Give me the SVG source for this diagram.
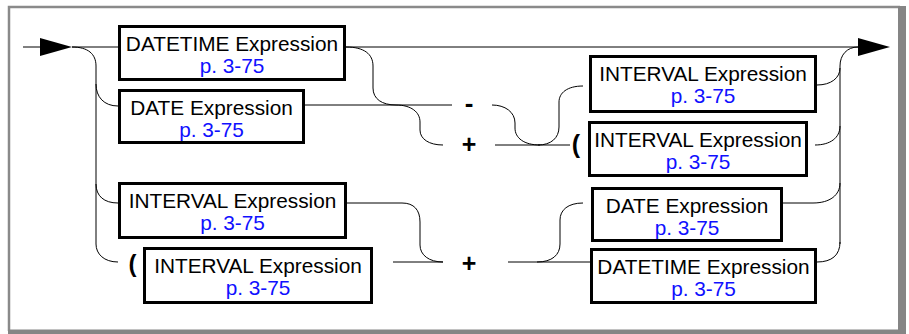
<svg xmlns="http://www.w3.org/2000/svg" width="909" height="334" viewBox="0 0 909 334">
<defs>
<style>
.box{fill:#fff;stroke:#000;stroke-width:3}
.t{font-family:"Liberation Sans",Arial,sans-serif;font-size:20.8px;fill:#000;text-anchor:middle}
.r{font-family:"Liberation Sans",Arial,sans-serif;font-size:20.8px;fill:#1010ff;text-anchor:middle}
.op{font-family:"Liberation Sans",Arial,sans-serif;font-weight:bold;fill:#000;text-anchor:middle}
.ln{fill:none;stroke:#000;stroke-width:1}
.fr{fill:none;stroke:#8a8a8a}
</style>
</defs>
<rect x="0" y="0" width="909" height="334" fill="#fff"/>
<g id="frame">
<path class="fr" d="M9,331 V7 H900" stroke-width="2.5"/>
<rect x="898" y="6" width="8" height="328" fill="#858585"/>
<rect x="8" y="329.5" width="898" height="4.5" fill="#858585"/>
</g>
<g id="connectors">
<path class="ln" d="M23,47 H40"/>
<polygon points="40,38 72,47 40,56" fill="#000"/>
<path class="ln" d="M72,47 H118"/>
<path class="ln" d="M346,47 H858"/>
<polygon points="858,38 890,47 858,56" fill="#000"/>
<path class="ln" d="M72,47 C88,47 96,54 96,66 V244 C96,254 104,262 118,262"/>
<path class="ln" d="M96,84 C96,97 104,106 118,106"/>
<path class="ln" d="M96,184 C96,196 104,203 118,203"/>
<path class="ln" d="M346,47 C364,47 373,54 373,66 V88 C373,99 382,105 396,105"/>
<path class="ln" d="M305,105 H452"/>
<path class="ln" d="M396,105 C411,105 420,112 420,122 V130 C420,139 429,145 443,145"/>
<path class="ln" d="M492,105 C505,105 515,112 515,123 V128 C515,138 524,145 540,145"/>
<path class="ln" d="M495,145 H570"/>
<path class="ln" d="M538,145 C551,145 559,138 559,127 V102 C559,93 567,86 583,86"/>
<path class="ln" d="M817,85 C831,85 840,78 840,68"/>
<path class="ln" d="M840,244 V66 C840,55 847,47 858,47"/>
<path class="ln" d="M815,145 C830,145 840,138 840,126"/>
<path class="ln" d="M783,203 H813 C830,203 840,195 840,183"/>
<path class="ln" d="M817,262 C832,262 840,255 840,242"/>
<path class="ln" d="M347,203 H402 C414,203 420,210 420,222 V245 C420,255 429,262 443,262"/>
<path class="ln" d="M393,262 H443"/>
<path class="ln" d="M508,262 H590"/>
<path class="ln" d="M537,262 C552,262 560,255 560,244 V220 C560,210 568,203 583,203"/>
</g>
<g id="ops">
<text class="op" x="469" y="112" font-size="26">-</text>
<text class="op" x="469" y="153" font-size="25">+</text>
<text class="op" x="469" y="272" font-size="25">+</text>
<text class="op" x="132.5" y="272" font-size="24">(</text>
<text class="op" x="576" y="153" font-size="25">(</text>
</g>
<g id="n1">
<rect class="box" x="119.5" y="26.5" width="225" height="53"/>
<text class="t" x="232" y="51">DATETIME Expression</text>
<text class="r" x="232" y="73">p. 3-75</text>
</g>
<g id="n2">
<rect class="box" x="119.5" y="90.5" width="184" height="52"/>
<text class="t" x="211.5" y="115">DATE Expression</text>
<text class="r" x="211.5" y="137">p. 3-75</text>
</g>
<g id="n3">
<rect class="box" x="119.5" y="183.5" width="226" height="54"/>
<text class="t" x="232.5" y="208">INTERVAL Expression</text>
<text class="r" x="232.5" y="230">p. 3-75</text>
</g>
<g id="n4">
<rect class="box" x="144.5" y="248.5" width="227" height="54"/>
<text class="t" x="258" y="273">INTERVAL Expression</text>
<text class="r" x="258" y="295">p. 3-75</text>
</g>
<g id="n5">
<rect class="box" x="590.5" y="56.5" width="225" height="55"/>
<text class="t" x="703" y="81">INTERVAL Expression</text>
<text class="r" x="703" y="103">p. 3-75</text>
</g>
<g id="n6">
<rect class="box" x="589.5" y="122.5" width="217" height="53"/>
<text class="t" x="698" y="147">INTERVAL Expression</text>
<text class="r" x="698" y="169">p. 3-75</text>
</g>
<g id="n7">
<rect class="box" x="592.5" y="188.5" width="189" height="52"/>
<text class="t" x="687" y="213">DATE Expression</text>
<text class="r" x="687" y="235">p. 3-75</text>
</g>
<g id="n8">
<rect class="box" x="591.5" y="249.5" width="224" height="53"/>
<text class="t" x="703.5" y="274">DATETIME Expression</text>
<text class="r" x="703.5" y="296">p. 3-75</text>
</g>
</svg>
